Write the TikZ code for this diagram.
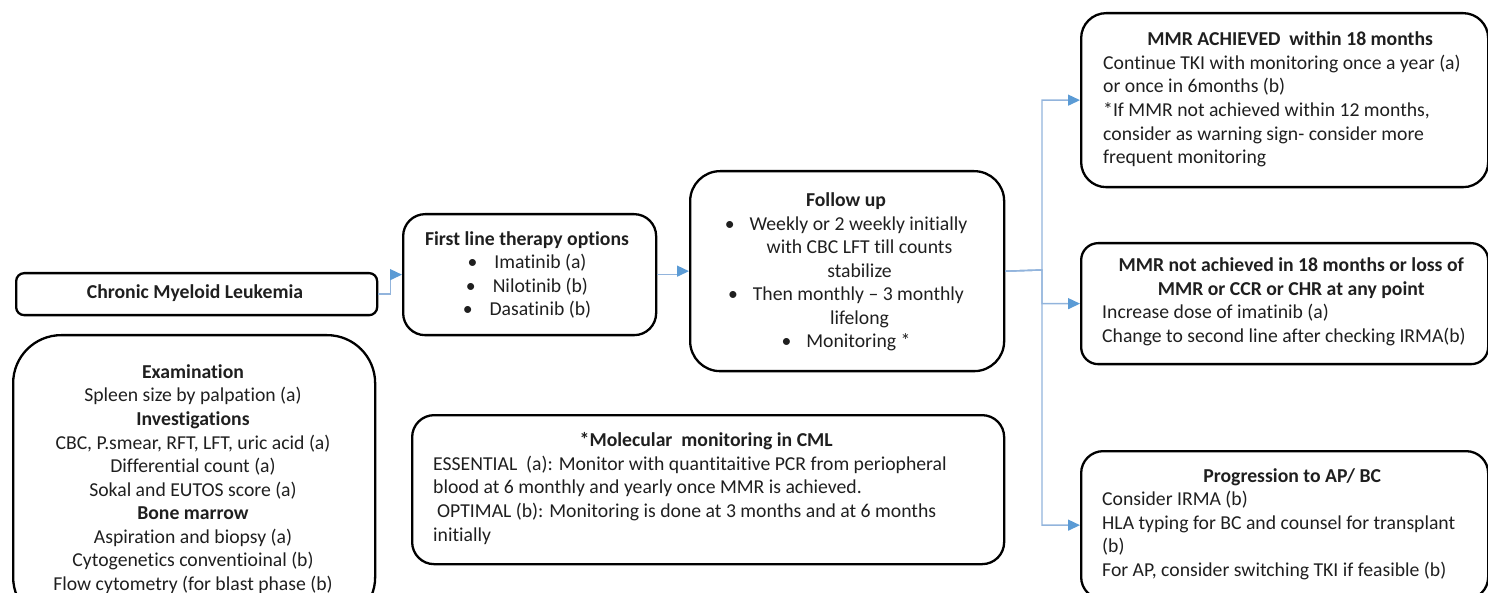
\documentclass[tikz,border=0pt]{standalone}
\usepackage{fontspec}
\setmainfont{Carlito}[Ligatures=NoCommon]
\usetikzlibrary{arrows.meta,calc}
\definecolor{lineblue}{RGB}{146,180,220}
\definecolor{tipblue}{RGB}{91,155,213}
\begin{document}
\begin{tikzpicture}[x=1pt,y=-1pt,
  box/.style={draw=black, line width=2.3pt, inner sep=0pt, anchor=north west},
  conn/.style={draw=lineblue, line width=1.4pt, -{Triangle[length=12pt,width=11pt,color=tipblue,fill=tipblue]}},
  txt/.style={inner sep=0pt, text=black!88, font=\fontsize{19.7}{23.55}\selectfont},
  ctxt/.style={txt, align=center},
  ltxt/.style={txt, align=left, anchor=west}]
\useasboundingbox (0,0) rectangle (1488,593);
\clip (0,0) rectangle (1488,593);
% boxes
\node[box, rounded corners=8pt,  minimum width=361pt, minimum height=42pt]  (cml)  at (15,272) {};
\node[box, rounded corners=48pt, minimum width=362pt, minimum height=290pt] (exam) at (12,334) {};
\node[box, rounded corners=22pt, minimum width=253pt, minimum height=121pt] (fl)   at (402,213) {};
\node[box, rounded corners=30pt, minimum width=314pt, minimum height=200pt] (fu)   at (689,170) {};
\node[box, rounded corners=22pt, minimum width=592pt, minimum height=149pt] (mol)  at (411,414) {};
\node[box, rounded corners=25pt, minimum width=407pt, minimum height=174pt] (ach)  at (1080,12) {};
\node[box, rounded corners=17pt, minimum width=407pt, minimum height=121pt] (nach) at (1080,242) {};
\node[box, rounded corners=22pt, minimum width=407pt, minimum height=148pt] (prog) at (1080,450) {};
% texts
\node[ctxt] (cmlt) at (195,293) {\textbf{Chronic Myeloid Leukemia}};
\node[ctxt] (examt) at (193,479) {\textbf{Examination}\\ Spleen size by palpation (a)\\ \textbf{Investigations}\\ CBC, P.smear, RFT, LFT, uric acid (a)\\ Differential count (a)\\ Sokal and EUTOS score (a)\\ \textbf{Bone marrow}\\ Aspiration and biopsy (a)\\ Cytogenetics conventioinal (b)\\ Flow cytometry (for blast phase (b)};
\node[ctxt] (flt) at (527,275) {\textbf{First line therapy options}\\ \textbullet\hspace{17pt}Imatinib (a)\\ \textbullet\hspace{17pt}Nilotinib (b)\\ \textbullet\hspace{17pt}Dasatinib (b)};
\node[ctxt] (fut) at (846,272) {\textbf{Follow up}\\ \textbullet\hspace{15pt}Weekly or 2 weekly initially\\ \hspace*{27pt}with CBC LFT till counts\\ \hspace*{27pt}stabilize\\ \textbullet\hspace{15pt}Then monthly -- 3 monthly\\ \hspace*{27pt}lifelong\\ \textbullet\hspace{15pt}Monitoring *};
\node[ltxt] (molt) at (433,488.5) {\makebox[546pt][c]{\bfseries *Molecular\ \ monitoring in CML}\\ ESSENTIAL\ \ (a): Monitor with quantitaitive PCR from periopheral\\ blood at 6 monthly and yearly once MMR is achieved.\\ \hspace*{4pt}OPTIMAL (b): Monitoring is done at 3 months and at 6 months\\ initially};
\node[ltxt] (acht) at (1103,99.5) {\makebox[374pt][c]{\bfseries MMR ACHIEVED\ \ within 18 months}\\ Continue TKI with monitoring once a year (a)\\ or once in 6months (b)\\ *If MMR not achieved within 12 months,\\ consider as warning sign- consider more\\ frequent monitoring};
\node[ltxt] (nacht) at (1102,302) {\makebox[378pt][c]{\bfseries MMR not achieved in 18 months or loss of}\\ \makebox[378pt][c]{\bfseries MMR or CCR or CHR at any point}\\ Increase dose of imatinib (a)\\ Change to second line after checking IRMA(b)};
\node[ltxt] (progt) at (1102,524) {\makebox[380pt][c]{\bfseries Progression to AP/ BC}\\ Consider IRMA (b)\\ HLA typing for BC and counsel for transplant\\ (b)\\ For AP, consider switching TKI if feasible (b)};
% connectors
\draw[conn] (cml.east) -- ++(12,0) |- (fl.west);
\draw[conn] (fl.east) -- ++(20,0) |- (fu.west);
\coordinate (br) at (1042,270);
\draw[conn] (fu.east) -- (br) |- (ach.west);
\draw[conn] (fu.east) -- (br) |- (nach.west);
\draw[conn] (fu.east) -- (br) |- (prog.west);
\end{tikzpicture}
\end{document}
